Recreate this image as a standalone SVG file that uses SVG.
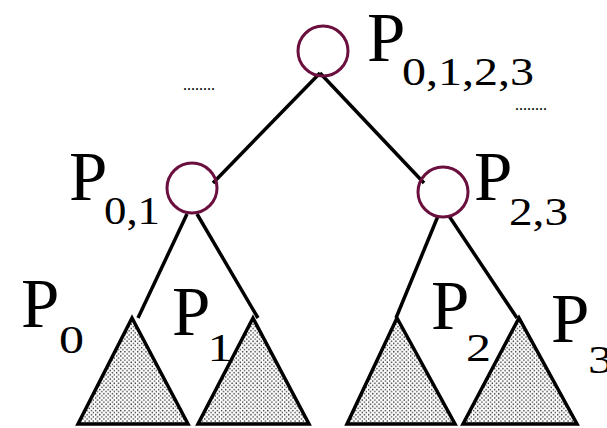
<svg xmlns="http://www.w3.org/2000/svg" width="607" height="428" viewBox="0 0 607 428">
<defs>
<pattern id="dots" width="4.2" height="4.2" patternUnits="userSpaceOnUse">
<circle cx="1.05" cy="1.05" r="0.75" fill="#333"/>
<circle cx="3.15" cy="3.15" r="0.75" fill="#333"/>
</pattern>
</defs>
<style>
.node{fill:none;stroke:#6b0f3e;stroke-width:3}
.edge{stroke:#000;stroke-width:3.5;fill:none}
.tri{fill:url(#dots);stroke:#000;stroke-width:3.5;stroke-linejoin:miter}
.p{font-family:'Liberation Serif',serif;font-size:69px;fill:#000}
.s{font-family:'Liberation Serif',serif;font-size:41px;fill:#000}
.d{font-family:'Liberation Serif',serif;font-size:16px;fill:#000}
</style>
<rect width="607" height="428" fill="#fff"/>
<g id="connectors">
<line class="edge" x1="320" y1="73" x2="213" y2="183"/>
<line class="edge" x1="320" y1="73" x2="424" y2="183"/>
<line class="edge" x1="187" y1="214" x2="138" y2="318"/>
<line class="edge" x1="197" y1="214" x2="258" y2="318"/>
<line class="edge" x1="438" y1="216" x2="396" y2="318"/>
<line class="edge" x1="449" y1="216" x2="517" y2="318"/>
</g>
<g id="n0123">
<circle class="node" cx="323" cy="51" r="25"/>
<text class="p" x="367" y="61">P</text>
<text class="s" x="402" y="85" textLength="132" lengthAdjust="spacingAndGlyphs">0,1,2,3</text>
</g>
<g id="n01">
<circle class="node" cx="192" cy="188" r="25"/>
<text class="p" x="69" y="200">P</text>
<text class="s" x="104" y="224" textLength="56" lengthAdjust="spacingAndGlyphs">0,1</text>
</g>
<g id="n23">
<circle class="node" cx="443" cy="192" r="25"/>
<text class="p" x="474" y="200">P</text>
<text class="s" x="509" y="225" textLength="59" lengthAdjust="spacingAndGlyphs">2,3</text>
</g>
<g id="t0">
<polygon class="tri" points="132,318 78,424 188,424"/>
<text class="p" x="21" y="327">P</text>
<text class="s" x="59" y="353" textLength="25" lengthAdjust="spacingAndGlyphs">0</text>
</g>
<g id="t1">
<polygon class="tri" points="253,318 198,424 309,424"/>
<text class="p" x="172" y="335">P</text>
<text class="s" x="207.5" y="361" textLength="25" lengthAdjust="spacingAndGlyphs">1</text>
</g>
<g id="t2">
<polygon class="tri" points="397,318 347,424 455,424"/>
<text class="p" x="431" y="329">P</text>
<text class="s" x="466" y="361" textLength="25" lengthAdjust="spacingAndGlyphs">2</text>
</g>
<g id="t3">
<polygon class="tri" points="519,318 463,424 577,424"/>
<text class="p" x="551" y="342">P</text>
<text class="s" x="588" y="373" textLength="25" lengthAdjust="spacingAndGlyphs">3</text>
</g>
<text class="d" x="183" y="90">........</text>
<text class="d" x="515" y="110">........</text>
</svg>
